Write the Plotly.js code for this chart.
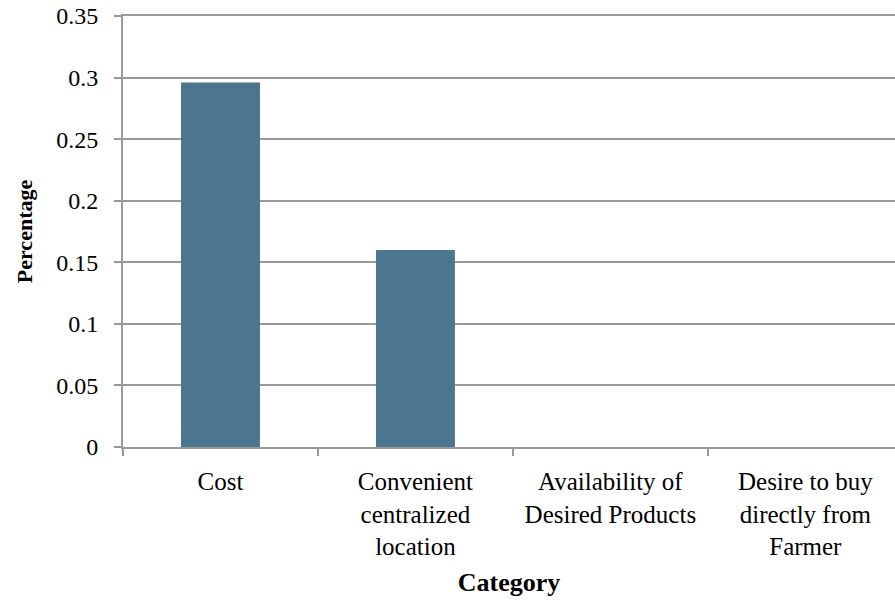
<!DOCTYPE html>
<html>
<head>
<meta charset="utf-8">
<script src="https://cdn.plot.ly/plotly-3.0.1.min.js"></script>
<style>
  html, body { margin: 0; padding: 0; background: #ffffff; }
  #chart { width: 895px; height: 600px; }
</style>
</head>
<body>
<div id="chart"></div>
<script>
// Reasons for shopping, share of respondents
const categories = [
  "Cost",
  "Convenient<br>centralized<br>location",
  "Availability of<br>Desired Products",
  "Desire to buy<br>directly from<br>Farmer"
];
const percentages = [0.296, 0.16, 0, 0];
const yTicks = [0, 0.05, 0.1, 0.15, 0.2, 0.25, 0.3, 0.35];
const yTickLabels = ["0", "0.05", "0.1", "0.15", "0.2", "0.25", "0.3", "0.35"];

const serif = "Liberation Serif, Times New Roman, serif";
const gridGray = "#999999";

const trace = {
  type: "bar",
  x: categories,
  y: percentages,
  width: 0.405,
  marker: {
    color: "#4c7690",
    line: { width: 0 }
  },
  hoverinfo: "x+y"
};

const layout = {
  width: 895,
  height: 600,
  margin: { l: 123, r: 0, t: 16, b: 153, pad: 0 },
  paper_bgcolor: "#ffffff",
  plot_bgcolor: "#ffffff",
  showlegend: false,
  font: { family: serif, size: 24, color: "#000000" },
  xaxis: {
    type: "category",
    range: [-0.5, 3.46],
    tickson: "boundaries",
    ticks: "outside",
    ticklen: 7,
    tickwidth: 2,
    tickcolor: gridGray,
    ticklabelstandoff: 11,
    showline: true,
    mirror: true,
    linecolor: gridGray,
    linewidth: 2,
    showgrid: false,
    zeroline: false,
    tickfont: { family: serif, size: 25, color: "#000000" },
    title: {
      text: "<b>Category</b>",
      font: { family: serif, size: 26, color: "#000000" },
      standoff: 14
    },
    fixedrange: true
  },
  yaxis: {
    range: [0, 0.35],
    tickvals: yTicks,
    ticktext: yTickLabels,
    ticks: "outside",
    ticklen: 7,
    tickwidth: 2,
    tickcolor: gridGray,
    ticklabelstandoff: 11,
    showline: true,
    linecolor: gridGray,
    linewidth: 2,
    showgrid: true,
    gridcolor: gridGray,
    gridwidth: 2,
    zeroline: false,
    tickfont: { family: serif, size: 24, color: "#000000" },
    title: {
      text: "<b>Percentage</b>",
      font: { family: serif, size: 22, color: "#000000" },
      standoff: 18
    },
    fixedrange: true
  }
};

Plotly.newPlot("chart", [trace], layout, { displayModeBar: false, staticPlot: true });
</script>
</body>
</html>
